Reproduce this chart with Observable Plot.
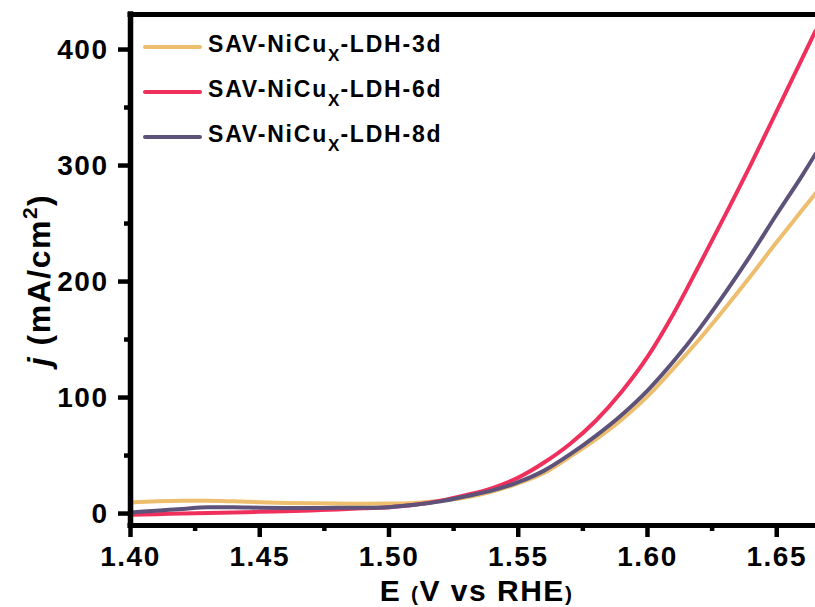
<!DOCTYPE html>
<html><head><meta charset="utf-8">
<script src="https://cdn.jsdelivr.net/npm/d3@7"></script>
<script src="https://cdn.jsdelivr.net/npm/@observablehq/plot@0.6"></script>
<style>
html,body{margin:0;padding:0;background:#fff;}
#wrap{position:relative;width:815px;height:607px;font-family:"Liberation Sans",Arial,sans-serif;overflow:hidden;}
#legend{position:absolute;left:143px;top:0;}
.row{position:absolute;left:0;height:0;white-space:nowrap;}
.sw{position:absolute;left:0;top:-2px;width:59px;height:4px;border-radius:2px;}
.lab{position:absolute;left:65px;top:-14px;font-size:23px;line-height:23px;font-weight:bold;letter-spacing:1.8px;color:#000;}
.sub{font-size:17px;position:relative;top:9px;letter-spacing:1px;}
</style>
</head><body>
<div id="wrap"><div id="chart"></div><div id="legend"></div></div>
<script>
// ---- data ----
const E = [1.400,1.410,1.420,1.430,1.440,1.450,1.460,1.470,1.480,1.490,1.500,1.510,1.520,1.530,1.540,1.550,1.560,1.570,1.580,1.590,1.600,1.610,1.620,1.630,1.640,1.650,1.660,1.665];
const j3d = [9.5,10.5,11,11,10.5,9.8,9.2,8.8,8.6,8.5,8.6,9.2,11,14,19,26,35,49,64,81,101,125,150,177,205,234,262,276];
const j6d = [-1,-0.5,0,0.5,1,1.5,2,2.7,3.5,4.5,5.5,7.5,11,16,22,31,44,60,80,105,135,172,214,257,301,347,393,416];
const j8d = [1,2.5,4,5.5,5.5,5,4.8,4.8,5,5,5.5,7.5,10.5,15,20,27,37,51,67,85,106,131,159,190,223,258,292,310];
const seriesNames = ["SAV-NiCu|X|-LDH-3d","SAV-NiCu|X|-LDH-6d","SAV-NiCu|X|-LDH-8d"];
const seriesColors = ["#EDBE6E","#F0305C","#5D527A"];
const xDomain = [1.40, 1.665];
const yDomain = [-10.3, 430.2];
const xMajor = [1.40,1.45,1.50,1.55,1.60,1.65];
const xMinor = [1.425,1.475,1.525,1.575,1.625];
const yMajor = [0,100,200,300,400];
const yMinor = [50,150,250,350];

const mk = ys => E.map((e,i)=>({E:e, j:ys[i]}));
const d3d = mk(j3d), d6d = mk(j6d), d8d = mk(j8d);

const lbl = {fontSize: 28, fontWeight: "bold", fill: "#000"};
const chart = Plot.plot({
  width: 815, height: 607,
  marginLeft: 130, marginRight: 0, marginTop: 14, marginBottom: 82,
  style: {fontFamily: "'Liberation Sans', Arial, sans-serif"},
  x: {domain: xDomain, label: null},
  y: {domain: yDomain, label: null},
  marks: [
    Plot.line(d3d, {x: "E", y: "j", stroke: seriesColors[0], strokeWidth: 4, curve: "monotone-x"}),
    Plot.line(d6d, {x: "E", y: "j", stroke: seriesColors[1], strokeWidth: 4, curve: "monotone-x"}),
    Plot.line(d8d, {x: "E", y: "j", stroke: seriesColors[2], strokeWidth: 4, curve: "monotone-x"}),
    Plot.axisX(xMajor, {tickSize: 12, strokeWidth: 4.5, tickFormat: () => "", label: null}),
    Plot.axisX(xMinor, {tickSize: 6, strokeWidth: 4.5, tickFormat: () => "", label: null}),
    Plot.axisY(yMajor, {tickSize: 12, strokeWidth: 4.5, tickFormat: () => "", label: null}),
    Plot.axisY(yMinor, {tickSize: 6, strokeWidth: 4.5, tickFormat: () => "", label: null}),
    Plot.text(xMajor, {x: d => d, text: d => d.toFixed(2), frameAnchor: "bottom", dy: 32, lineAnchor: "middle", textAnchor: "middle", ...lbl}),
    Plot.text(yMajor, {y: d => d, text: d => String(d), frameAnchor: "left", dx: -22, textAnchor: "end", ...lbl}),
    Plot.ruleX([xDomain[0]], {stroke: "#000", strokeWidth: 5.5, strokeLinecap: "square"}),
    Plot.ruleY([yDomain[0], yDomain[1]], {stroke: "#000", strokeWidth: 5, strokeLinecap: "square"})
  ]
});
document.getElementById("chart").appendChild(chart);

const svg = d3.select(chart);
svg.selectAll('g[aria-label="text"] text').style("letter-spacing", "1.5px");

// axis titles
const xr = chart.scale("x").range;
const xt = svg.append("text")
  .attr("x", (xr[0]+xr[1])/2 + 4).attr("y", 601)
  .attr("text-anchor", "middle")
  .attr("font-size", 30).attr("font-weight", "bold").attr("fill", "#000")
  .style("letter-spacing", "1.5px");
xt.append("tspan").text("E ");
xt.append("tspan").attr("font-size", 21).text("(");
xt.append("tspan").text("V vs RHE");
xt.append("tspan").attr("font-size", 21).text(")");

const yt = svg.append("text")
  .attr("transform", "translate(50,280) rotate(-90)")
  .attr("text-anchor", "middle")
  .attr("font-size", 32).attr("font-weight", "bold").attr("fill", "#000")
  .style("letter-spacing", "1.5px");
yt.append("tspan").attr("font-style", "italic").text("j");
yt.append("tspan").text(" (mA/cm");
yt.append("tspan").attr("font-size", 21).attr("dy", -13).text("2");
yt.append("tspan").attr("dy", 13).text(")");

// legend
const legend = document.getElementById("legend");
const rowY = [47, 92, 137];
seriesNames.forEach((name, i) => {
  const [a, sub, b] = name.split("|");
  const row = document.createElement("div");
  row.className = "row";
  row.style.top = rowY[i] + "px";
  row.innerHTML = `<div class="sw" style="background:${seriesColors[i]}"></div><div class="lab">${a}<span class="sub">${sub}</span>${b}</div>`;
  legend.appendChild(row);
});
</script>
</body></html>
